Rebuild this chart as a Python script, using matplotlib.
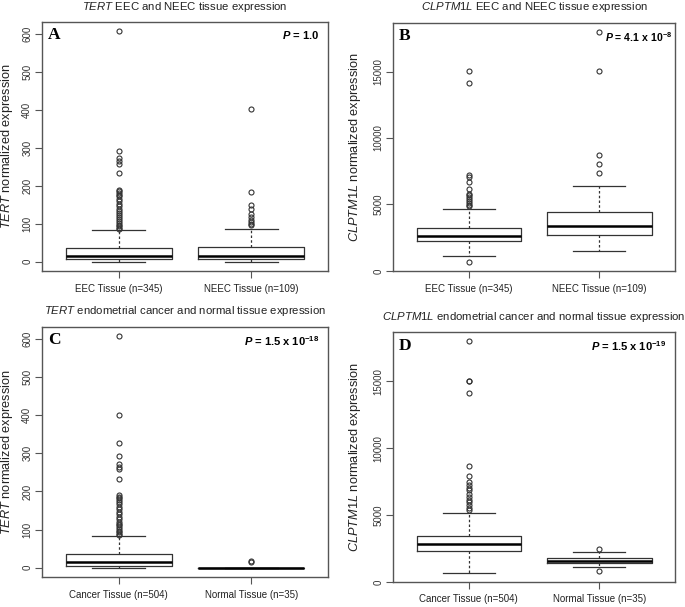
import matplotlib
matplotlib.use('Agg')
import matplotlib.pyplot as plt

plt.rcParams['font.family'] = ['Liberation Sans', 'DejaVu Sans']
plt.rcParams['mathtext.fontset'] = 'custom'
plt.rcParams['mathtext.rm'] = 'Liberation Sans'
plt.rcParams['mathtext.it'] = 'Liberation Sans:italic'
plt.rcParams['mathtext.bf'] = 'Liberation Sans:bold'
plt.rcParams['mathtext.bfit'] = 'Liberation Sans:bold:italic'

# --- данные ---
# (q1, median, q3, whisker low, whisker high)
a_labels = ['EEC Tissue (n=345)', 'NEEC Tissue (n=109)']
a_stats = [(7, 16, 37, 0, 83), (8, 14, 38, 0, 86)]
a_fliers = [
    [607, 292, 272, 265, 258, 233, 190, 186, 182, 177, 172, 166, 160, 152, 146,
     140, 134, 128, 122, 117, 112, 107, 102, 98, 94, 90, 87],
    [403, 185, 150, 140, 125, 118, 110, 105, 100, 96],
]

b_labels = ['EEC Tissue (n=345)', 'NEEC Tissue (n=109)']
b_stats = [(2250, 2650, 3230, 1100, 4630), (2680, 3360, 4460, 1480, 6410)]
b_fliers = [
    [15050, 14120, 7210, 7050, 6660, 6160, 5810, 5700, 5550, 5400, 5250, 5100, 4980, 4850, 680],
    [17960, 15050, 8690, 8040, 7390],
]

c_labels = ['Cancer Tissue (n=504)', 'Normal Tissue (n=35)']
c_stats = [(5, 15, 36, 0, 83), (0, 0, 0, 0, 0)]
c_fliers = [
    [607, 401, 328, 293, 272, 265, 258, 233, 190, 186, 182, 177, 172, 166, 160, 153,
     146, 140, 133, 127, 121, 116, 111, 106, 101, 97, 93, 89, 86],
    [16, 18],
]

d_labels = ['Cancer Tissue (n=504)', 'Normal Tissue (n=35)']
d_stats = [(2325, 2825, 3475, 700, 5175), (1450, 1550, 1800, 1125, 2250)]
d_fliers = [
    [18000, 15050, 15000, 14125, 8700, 7950, 7450, 7250, 7050, 6850, 6600, 6350, 6150,
     5950, 5750, 5550, 5400],
    [2475, 800],
]

titles = [r'$\it{TERT}$ EEC and NEEC tissue expression',
          r'$\it{CLPTM1L}$ EEC and NEEC tissue expression',
          r'$\it{TERT}$ endometrial cancer and normal tissue expression',
          r'$\it{CLPTM1L}$ endometrial cancer and normal tissue expression']
ylabels = [r'$\it{TERT}$ normalized expression',
           r'$\it{CLPTM1L}$ normalized expression',
           r'$\it{TERT}$ normalized expression',
           r'$\it{CLPTM1L}$ normalized expression']
letters = ['A', 'B', 'C', 'D']
pvals = [r'$\mathbfit{P}$ = 1.0',
         r'$\mathbfit{P}$ = 4.1 x 10$^{\mathbf{-8}}$',
         r'$\mathbfit{P}$ = 1.5 x 10$^{\mathbf{-18}}$',
         r'$\mathbfit{P}$ = 1.5 x 10$^{\mathbf{-19}}$']
yticks_small = [0, 100, 200, 300, 400, 500, 600]
yticks_big = [0, 5000, 10000, 15000]

W, H = 685, 607
fig = plt.figure(figsize=(W / 100, H / 100), dpi=100)

# прямоугольники осей в пикселях: left, top, right, bottom
boxes = [(42, 22, 328, 271), (393, 23, 675, 271), (42, 327, 328, 577), (393, 332, 675, 582)]
label_x = [15, 363, 15, 363]
p_right = [0.97, 0.99, 0.97, 0.97]
p_size = [8, 7.6, 8, 8]
panels = [(a_labels, a_stats, a_fliers, yticks_small),
          (b_labels, b_stats, b_fliers, yticks_big),
          (c_labels, c_stats, c_fliers, yticks_small),
          (d_labels, d_stats, d_fliers, yticks_big)]

grey = '#555555'
for k, (labels, stats, fliers, yt) in enumerate(panels):
    l, t, r, b = boxes[k]
    ax = fig.add_axes([l / W, (H - b) / H, (r - l) / W, (b - t) / H])
    bx = []
    for (q1, med, q3, lo, hi), fl in zip(stats, fliers):
        bx.append(dict(q1=q1, med=med, q3=q3, whislo=lo, whishi=hi, fliers=fl))
    ax.bxp(bx, positions=[1, 2], widths=0.8, capwidths=0.4,
           boxprops=dict(color='#333333', linewidth=0.9),
           medianprops=dict(color='black', linewidth=1.8),
           whiskerprops=dict(color='#333333', linewidth=0.9, linestyle=(0, (2, 1.8))),
           capprops=dict(color='#333333', linewidth=0.9),
           flierprops=dict(marker='o', markersize=3.6, markerfacecolor='none',
                           markeredgecolor='#333333', markeredgewidth=0.8))
    allv = [v for s in stats for v in s[3:]] + [v for fl in fliers for v in fl]
    lo_v, hi_v = min(allv), max(allv)
    rng = hi_v - lo_v
    ax.set_ylim(lo_v - 0.04 * rng, hi_v + 0.04 * rng)
    ax.set_xlim(0.42, 2.58)
    ax.set_xticks([1, 2])
    ax.set_xticklabels(labels, fontsize=7, color='#222222')
    ax.set_yticks(yt)
    ax.set_yticklabels([str(v) for v in yt], rotation=90, va='center', fontsize=7, color='#333333')
    ax.tick_params(axis='both', length=5, width=0.8, color=grey)
    ax.tick_params(axis='x', pad=4)
    ax.tick_params(axis='y', pad=2)
    for sp in ax.spines.values():
        sp.set_color(grey)
        sp.set_linewidth(1.0)
    ax.set_ylabel(ylabels[k], fontsize=9.2, color='#222222')
    ax.yaxis.set_label_coords((label_x[k] - l) / (r - l), 0.5)
    ax.set_title(titles[k], fontsize=8.2, color='#222222', pad=9)
    ax.text(0.02, 0.978, letters[k], transform=ax.transAxes, fontsize=12.5, fontweight='bold',
            family='Liberation Serif', va='top', ha='left')
    ax.text(p_right[k], 0.972, pvals[k], transform=ax.transAxes, fontsize=p_size[k],
            fontweight='bold', va='top', ha='right')

fig.savefig('out.png', dpi=100)
